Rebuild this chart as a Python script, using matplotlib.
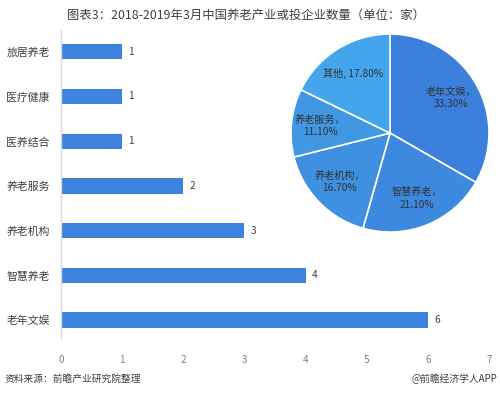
import matplotlib
matplotlib.use("Agg")
import matplotlib.pyplot as plt

plt.rcParams['font.family'] = ['Noto Sans CJK SC', 'DejaVu Sans']

categories = ['老年文娱', '智慧养老', '养老机构', '养老服务', '医养结合', '医疗健康', '旅居养老']
counts = [6, 4, 3, 2, 1, 1, 1]
xticks = [0, 1, 2, 3, 4, 5, 6, 7]

pie_labels = ['老年文娱，\n33.30%', '智慧养老，\n21.10%', '养老机构，\n16.70%', '养老服务，\n11.10%', '其他, 17.80%']
pie_values = [33.3, 21.1, 16.7, 11.1, 17.8]
pie_colors = ['#3b80dc', '#3d89df', '#3f90e1', '#4097e4', '#44a4ec']

title = '图表3：2018-2019年3月中国养老产业或投企业数量（单位：家）'
source = '资料来源：前瞻产业研究院整理'
brand = '@前瞻经济学人APP'

fig = plt.figure(figsize=(5.0, 3.93), dpi=100)

ax = fig.add_axes([0.122, 0.140, 0.856, 0.784])
y = list(range(len(categories)))
ax.barh(y, counts, height=0.34, color='#3d82df')
for yi, v in zip(y, counts):
    ax.text(v + 0.1, yi, str(v), va='center', ha='left', fontsize=7.3, color='#404040')
ax.set_yticks(y)
ax.set_yticklabels(categories, fontsize=7.8, color='#404040')
ax.set_xticks(xticks)
ax.set_xticklabels([str(t) for t in xticks], fontsize=7.2, color='#808080')
ax.set_xlim(0, 7)
ax.set_ylim(-0.40, 6.49)
ax.tick_params(axis='both', length=0)
ax.tick_params(axis='x', pad=12)
ax.tick_params(axis='y', pad=8)
for s in ['top', 'right', 'bottom']:
    ax.spines[s].set_visible(False)
ax.spines['left'].set_color('#d9d9d9')
ax.spines['left'].set_linewidth(1.0)

pax = fig.add_axes([0.58, 0.407, 0.40, 0.509])
wedges, texts = pax.pie(pie_values, labels=pie_labels, colors=pie_colors, startangle=90,
                        counterclock=False, labeldistance=0.71,
                        wedgeprops=dict(edgecolor='white', linewidth=1.2),
                        textprops=dict(fontsize=7.3, color='#333333', ha='center', va='center',
                                       multialignment='center', linespacing=1.35))
for t in texts:
    t.set_ha('center')
    t.set_va('center')
pax.set_xlim(-1.01, 1.01)
pax.set_ylim(-1.01, 1.01)
pax.set_aspect('equal')
pax.axis('off')

fig.text(0.492, 0.962, title, ha='center', va='center', fontsize=8.9, color='#404040')
fig.text(0.01, 0.035, source, ha='left', va='center', fontsize=7, color='#404040', style='italic')
fig.text(0.995, 0.035, brand, ha='right', va='center', fontsize=7, color='#404040')

fig.savefig('out.png', dpi=100)
